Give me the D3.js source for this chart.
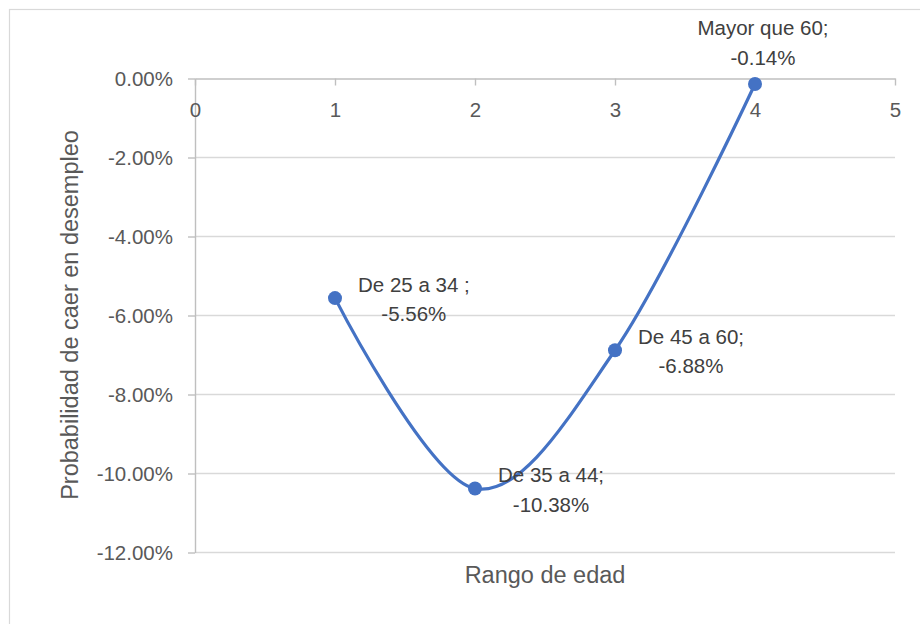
<!DOCTYPE html>
<html>
<head>
<meta charset="utf-8">
<script src="https://cdn.jsdelivr.net/npm/d3@7"></script>
<style>
  html, body { margin: 0; padding: 0; background: #fff; }
  svg { display: block; font-family: "Liberation Sans", Arial, sans-serif; }
</style>
</head>
<body>
<svg id="chart" width="920" height="624"></svg>
<script>
// ---- data ----
const categories = ["De 25 a 34 ;", "De 35 a 44;", "De 45 a 60;", "Mayor que 60;"];
const xValues = [1, 2, 3, 4];
const values = [-5.56, -10.38, -6.88, -0.14];
const labelPlacement = ["right", "right", "right", "above"];
const xTicks = [0, 1, 2, 3, 4, 5];
const yTicks = [0, -2, -4, -6, -8, -10, -12];
const xTitle = "Rango de edad";
const yTitle = "Probabilidad de caer en desempleo";

const svg = d3.select("#chart");
const W = 920, H = 624;
const plot = { left: 195, right: 895, top: 78.5, bottom: 552.5 };

svg.append("rect").attr("width", W).attr("height", H).attr("fill", "#fff");
// outer chart border (cropped at right/bottom)
svg.append("rect").attr("x", 9.5).attr("y", 9.5).attr("width", 1000).attr("height", 1000)
  .attr("fill", "none").attr("stroke", "#d9d9d9").attr("stroke-width", 1.2);

const x = d3.scaleLinear().domain([0, 5]).range([plot.left, plot.right]);
const y = d3.scaleLinear().domain([-12, 0]).range([plot.bottom, plot.top]);

// gridlines
svg.append("g").selectAll("line").data(yTicks.filter(v => v !== 0)).join("line")
  .attr("x1", plot.left).attr("x2", plot.right)
  .attr("y1", d => y(d)).attr("y2", d => y(d))
  .attr("stroke", "#d9d9d9").attr("stroke-width", 1.4);

const fmtPct = v => v.toFixed(2) + "%";

// y axis
const yAxis = svg.append("g").attr("transform", `translate(${plot.left},0)`)
  .call(d3.axisLeft(y).tickValues(yTicks).tickFormat(fmtPct).tickSize(7).tickSizeOuter(0).tickPadding(15));
yAxis.select(".domain").attr("stroke", "#bfbfbf").attr("stroke-width", 1.4);
yAxis.selectAll(".tick line").attr("stroke", "#bfbfbf").attr("stroke-width", 1.4);
yAxis.selectAll(".tick text").attr("fill", "#595959").attr("font-size", 20.5)
  .attr("font-family", "Liberation Sans, Arial, sans-serif").attr("dy", "0.36em");

// x axis at y = 0
const xAxis = svg.append("g").attr("transform", `translate(0,${y(0)})`)
  .call(d3.axisBottom(x).tickValues(xTicks).tickFormat(d3.format("d")).tickSize(7).tickSizeOuter(0).tickPadding(17));
xAxis.select(".domain").attr("stroke", "#bfbfbf").attr("stroke-width", 1.4);
xAxis.selectAll(".tick line").attr("stroke", "#bfbfbf").attr("stroke-width", 1.4);
xAxis.selectAll(".tick text").attr("fill", "#595959").attr("font-size", 20.5)
  .attr("font-family", "Liberation Sans, Arial, sans-serif");

// axis titles
svg.append("text").attr("x", (plot.left + plot.right) / 2).attr("y", 583)
  .attr("text-anchor", "middle").attr("fill", "#595959").attr("font-size", 23.5)
  .text(xTitle);
svg.append("text").attr("transform", "translate(78,315) rotate(-90)")
  .attr("text-anchor", "middle").attr("fill", "#595959").attr("font-size", 23.5)
  .text(yTitle);

// series
const pts = xValues.map((xv, i) => ({ x: xv, y: values[i], cat: categories[i], place: labelPlacement[i] }));
const line = d3.line().x(d => x(d.x)).y(d => y(d.y)).curve(d3.curveCardinal.tension(0));
svg.append("path").datum(pts).attr("d", line)
  .attr("fill", "none").attr("stroke", "#4472c4").attr("stroke-width", 3.2)
  .attr("stroke-linecap", "round");
svg.append("g").selectAll("circle").data(pts).join("circle")
  .attr("cx", d => x(d.x)).attr("cy", d => y(d.y)).attr("r", 7)
  .attr("fill", "#4472c4");

// data labels
pts.forEach(d => {
  const px = x(d.x), py = y(d.y);
  const g = svg.append("g").attr("fill", "#404040").attr("font-size", 20.5);
  const t1 = g.append("text").text(d.cat);
  const t2 = g.append("text").text(d.y.toFixed(2) + "%");
  const w = Math.max(t1.node().getComputedTextLength(), t2.node().getComputedTextLength());
  let cx, b1;
  if (d.place === "above") { cx = px + 8; b1 = py - 49; }
  else { cx = px + 23 + w / 2; b1 = py - 6.5; }
  t1.attr("x", cx).attr("y", b1).attr("text-anchor", "middle");
  t2.attr("x", cx).attr("y", b1 + 29.5).attr("text-anchor", "middle");
});
</script>
</body>
</html>
